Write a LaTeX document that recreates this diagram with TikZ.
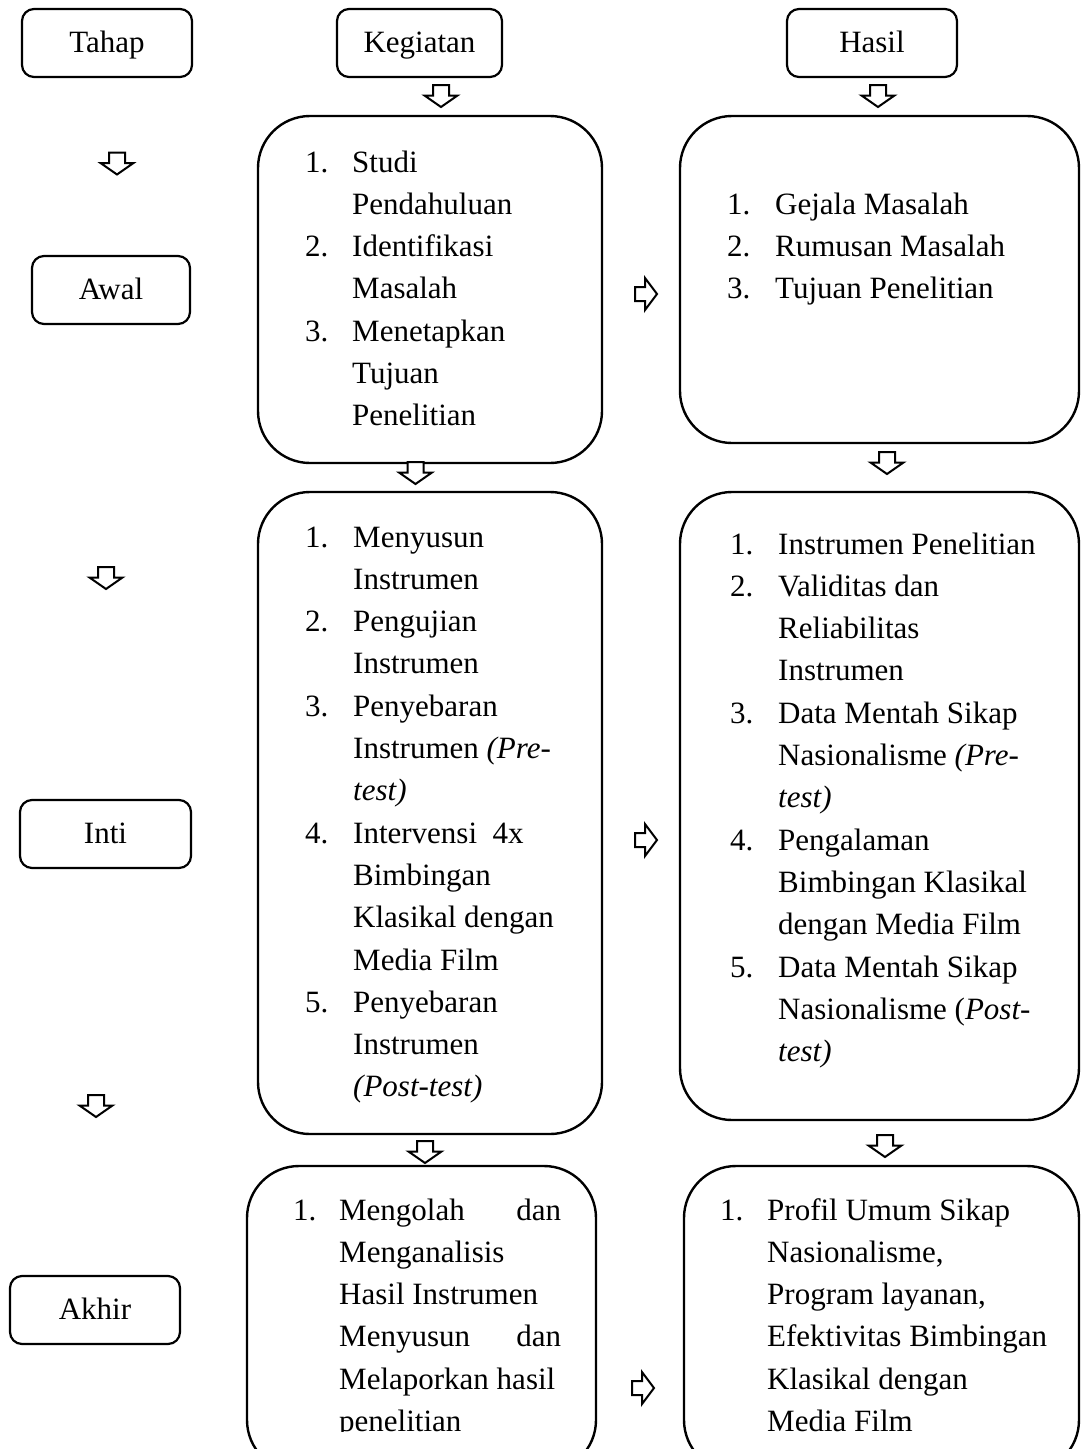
\documentclass[tikz,border=0pt]{standalone}
\usepackage{fontspec}
\setmainfont{Liberation Serif}
\newcommand{\lstfont}{\fontsize{31}{42.3}\selectfont}
\begin{document}
\begin{tikzpicture}[x=1pt,y=-1pt,
  hdr/.style={draw, line width=2.2pt, rounded corners=12pt, minimum height=68pt,
    inner sep=0pt, text height=24pt, text depth=6pt, font=\lstfont},
  bigbox/.style={draw, line width=2.4pt, rounded corners=52pt, inner sep=0pt},
  arrline/.style={draw, fill=white, line width=2pt, line join=miter},
  darr/.pic={\path[arrline] (-8,-11) -- (8,-11) -- (8,-0.5) -- (16.5,-0.5) -- (0,11)
     -- (-16.5,-0.5) -- (-8,-0.5) -- cycle;},
  rarr/.pic={\path[arrline] (-11,-7) -- (-1,-7) -- (-1,-16) -- (11,0) -- (-1,16)
     -- (-1,7) -- (-11,7) -- cycle;},
  lst/.style={anchor=base west, inner sep=0pt, font=\lstfont}
]
\clip (0,0) rectangle (1080,1449);
\fill[white] (0,0) rectangle (1080,1449);

% headers
\node[hdr, minimum width=170pt] (tahap) at (107,43) {Tahap};
\node[hdr, minimum width=165pt] (keg) at (419.5,43) {Kegiatan};
\node[hdr, minimum width=170pt] (has) at (872,43) {Hasil};

% stage boxes
\node[hdr, minimum width=158pt] (awal) at (111,290) {Awal};
\node[hdr, minimum width=171pt] (inti) at (105.5,834) {Inti};
\node[hdr, minimum width=170pt] (akhir) at (95,1310) {Akhir};

% big boxes
\node[bigbox, minimum width=344pt, minimum height=347pt] (k1) at (430,289.5) {};
\node[bigbox, minimum width=399pt, minimum height=327pt] (h1) at (879.5,279.5) {};
\node[bigbox, minimum width=344pt, minimum height=642pt] (k2) at (430,813) {};
\node[bigbox, minimum width=399pt, minimum height=628pt] (h2) at (879.5,806) {};
\node[bigbox, minimum width=349pt, minimum height=306pt] (k3) at (421.5,1319) {};
\node[bigbox, minimum width=395pt, minimum height=306pt] (h3) at (881.5,1319) {};

% down arrows
\pic (ak0) at (441,96) {darr};
\pic (ah0) at (878,96) {darr};
\pic (at0) at (117,163.5) {darr};
\pic (ak1) at (415.5,473) {darr};
\pic (ah1) at (887,463) {darr};
\pic (at1) at (106,578) {darr};
\pic (ak2) at (425,1152) {darr};
\pic (ah2) at (885,1146) {darr};
\pic (at2) at (96,1106) {darr};

% right arrows
\pic (ar1) at (646,294) {rarr};
\pic (ar2) at (646,840) {rarr};
\pic (ar3) at (643,1388) {rarr};

% lists
\node[lst] (tk1) at (305,172) {\begin{tabular}[t]{@{}p{47pt}@{}l@{}}
1. & Studi\\ & Pendahuluan\\ 2. & Identifikasi\\ & Masalah\\ 3. & Menetapkan\\ & Tujuan\\ & Penelitian
\end{tabular}};

\node[lst] (th1) at (727,214) {\begin{tabular}[t]{@{}p{48pt}@{}l@{}}
1. & Gejala Masalah\\ 2. & Rumusan Masalah\\ 3. & Tujuan Penelitian
\end{tabular}};

\node[lst] (tk2) at (305,547) {\begin{tabular}[t]{@{}p{48pt}@{}l@{}}
1. & Menyusun\\ & Instrumen\\ 2. & Pengujian\\ & Instrumen\\ 3. & Penyebaran\\
 & Instrumen \textit{(Pre-}\\ & \textit{test)}\\ 4. & Intervensi\ \ 4x\\ & Bimbingan\\
 & Klasikal dengan\\ & Media Film\\ 5. & Penyebaran\\ & Instrumen\\ & \textit{(Post-test)}
\end{tabular}};

\node[lst] (th2) at (730,554) {\begin{tabular}[t]{@{}p{48pt}@{}l@{}}
1. & Instrumen Penelitian\\ 2. & Validitas dan\\ & Reliabilitas\\ & Instrumen\\
3. & Data Mentah Sikap\\ & Nasionalisme \textit{(Pre-}\\ & \textit{test)}\\
4. & Pengalaman\\ & Bimbingan Klasikal\\ & dengan Media Film\\
5. & Data Mentah Sikap\\ & Nasionalisme (\textit{Post-}\\ & \textit{test)}
\end{tabular}};

\begin{scope}
\clip (240,1170) rectangle (600,1431);
\node[lst] (tk3) at (293,1220) {\begin{tabular}[t]{@{}p{46pt}@{}l@{}}
1. & \makebox[222pt][l]{Mengolah\hfill dan}\\ & Menganalisis\\ & Hasil Instrumen\\
 & \makebox[222pt][l]{Menyusun\hfill dan}\\ & Melaporkan hasil\\ & penelitian
\end{tabular}};
\end{scope}

\node[lst] (th3) at (720,1220) {\begin{tabular}[t]{@{}p{47pt}@{}l@{}}
1. & Profil Umum Sikap\\ & Nasionalisme,\\ & Program layanan,\\
 & Efektivitas Bimbingan\\ & Klasikal dengan\\ & Media Film
\end{tabular}};
\end{tikzpicture}
\end{document}
